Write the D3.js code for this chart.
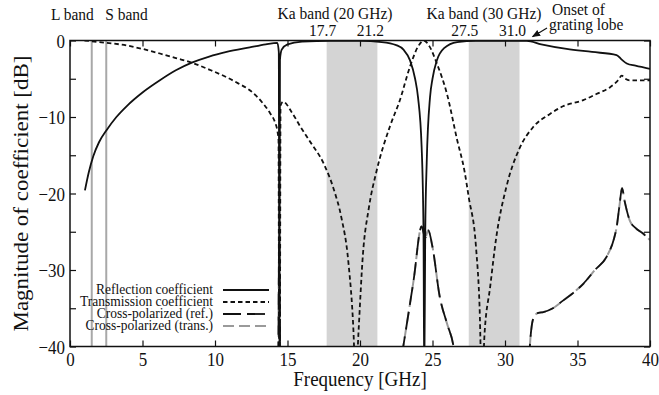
<!DOCTYPE html>
<html>
<head>
<meta charset="utf-8">
<script src="https://cdn.jsdelivr.net/npm/d3@7"></script>
<style>
  body { margin: 0; background: #fff; }
  svg text { font-family: 'Liberation Serif', 'Times New Roman', serif; fill: #111; }
</style>
</head>
<body>
<div id="chart"></div>
<script>
// frequency [GHz], magnitude [dB]
const reflection = [
  [1.03, -19.6], [1.3, -17.2], [1.61, -15.1], [2.0, -13.3], [2.53, -11.7], [3.2, -10.0],
  [3.9, -8.6], [5.0, -6.8], [6.2, -5.2], [7.3, -3.9], [8.4, -2.9], [9.6, -2.1],
  [10.8, -1.5], [12.4, -0.9], [13.5, -0.5], [14.3, -0.3], [14.4, -1.5], [14.44, -45],
  [14.48, -2.5], [14.6, -1.2], [15.0, -0.5], [16.0, -0.15], [18.0, -0.05], [20.0, -0.05],
  [21.5, -0.2], [22.5, -0.6], [23.0, -1.2], [23.45, -2.6], [23.8, -5.0], [24.0, -7.4],
  [24.25, -13.9], [24.38, -25], [24.43, -45], [24.5, -25], [24.6, -16], [24.83, -7.4],
  [25.0, -5.0], [25.3, -2.6], [25.8, -1.0], [26.7, -0.2], [28.0, -0.05], [31.5, -0.05],
  [32.5, -0.5], [34.25, -1.1], [36.0, -1.5], [37.7, -1.9], [38.05, -2.5], [38.4, -3.0],
  [39.0, -3.3], [40.0, -3.7]
];

const transmission = [
  [1.0, 0], [2.0, -0.2], [3.0, -0.4], [3.9, -0.65], [5.0, -1.1], [6.2, -1.7],
  [7.3, -2.3], [8.4, -2.9], [9.6, -3.8], [10.8, -4.8], [11.6, -5.6], [12.4, -6.5],
  [13.3, -8.2], [13.8, -9.5], [14.14, -10.7], [14.3, -11.8], [14.38, -13], [14.43, -45],
  [14.47, -45], [14.52, -8.5], [14.7, -8.0], [15.3, -9.4], [15.9, -11.3], [16.55, -13.2],
  [17.5, -16.1], [18.2, -19.5], [18.7, -23], [19.2, -29], [19.55, -38], [19.7, -45],
  [19.9, -38], [20.2, -28], [20.6, -22], [21.15, -17], [22.07, -11.2], [22.75, -7.8],
  [23.45, -3.4], [24.0, -0.8], [24.4, 0], [24.8, -0.8], [25.3, -3.0], [26.0, -7.0],
  [26.7, -13], [27.2, -17], [27.5, -20.5], [28.0, -27], [28.25, -35], [28.4, -45],
  [28.6, -38], [28.97, -32.3], [29.4, -25.7], [30.1, -19.1], [31.0, -14.1], [31.95, -11.3],
  [33.1, -9.6], [34.0, -8.6], [35.4, -7.8], [36.3, -7.0], [37.25, -6.1], [37.8, -5.2],
  [38.05, -4.6], [38.3, -5.0], [38.6, -5.2], [40.0, -5.2]
];

// null marks a break in the trace
const crossPolRef = [
  [14.36, -45], [14.43, -26.3], [14.5, -45], null,
  [22.9, -41], [23.7, -31.3], [24.25, -24.3], [24.5, -25.8], [24.7, -24.8], [25.0, -27],
  [25.5, -33.5], [26.0, -37], [26.45, -40], [26.6, -42], null,
  [31.65, -42], [31.75, -39], [32.0, -36.1], [32.3, -35.6], [32.65, -35.5], [33.3, -35],
  [34.0, -34], [34.7, -33], [35.4, -31.8], [36.2, -30], [37.0, -28.3], [37.5, -26],
  [37.7, -24.4], [37.9, -21.5], [38.07, -19.3], [38.25, -21], [38.6, -23.5], [39.0, -24.5],
  [39.5, -25.2], [40.0, -26.1]
];
const crossPolTrans = crossPolRef.slice();

const kaBands = [[17.7, 21.2], [27.5, 31.0]];
const bandLines = [1.5, 2.5];
const xTicks = [0, 5, 10, 15, 20, 25, 30, 35, 40];
const yTicks = [-40, -35, -30, -25, -20, -15, -10, -5, 0];
const legendLabels = ['Reflection coefficient', 'Transmission coefficient', 'Cross-polarized (ref.)', 'Cross-polarized (trans.)'];

const W = 659, H = 395;
const plot = { left: 70, right: 650, top: 40.5, bottom: 346.5 };
const stretch = 'scale(1,1.15)';

const svg = d3.select('#chart').append('svg').attr('width', W).attr('height', H);

const x = d3.scaleLinear().domain([0, 40]).range([plot.left, plot.right]);
const y = d3.scaleLinear().domain([-40, 0]).range([plot.bottom, plot.top]);

svg.append('clipPath').attr('id', 'plot-clip')
  .append('rect').attr('x', plot.left).attr('y', plot.top)
  .attr('width', plot.right - plot.left).attr('height', plot.bottom - plot.top);

/* Ka bands */
svg.append('g').selectAll('rect')
  .data(kaBands)
  .enter().append('rect')
  .attr('x', d => x(d[0]))
  .attr('width', d => x(d[1]) - x(d[0]))
  .attr('y', plot.top)
  .attr('height', plot.bottom - plot.top)
  .attr('fill', '#d4d4d4');

/* L / S band lines */
svg.append('g').selectAll('line')
  .data(bandLines)
  .enter().append('line')
  .attr('x1', d => x(d)).attr('x2', d => x(d))
  .attr('y1', plot.top).attr('y2', plot.bottom)
  .attr('stroke', '#a8a8a8')
  .attr('stroke-width', 2);

/* Curves */
const line = d3.line()
  .defined(d => d !== null)
  .x(d => x(d[0]))
  .y(d => y(d[1]))
  .curve(d3.curveMonotoneX);

const curves = svg.append('g').attr('clip-path', 'url(#plot-clip)');

const styles = [
  { data: crossPolTrans, color: '#9a9a9a', dash: '11,5', width: 2 },
  { data: crossPolRef, color: '#111', dash: '18,7', width: 1.8 },
  { data: transmission, color: '#111', dash: '4.5,3', width: 1.8 },
  { data: reflection, color: '#111', dash: null, width: 1.8 }
];

styles.forEach(s => {
  curves.append('path')
    .datum(s.data)
    .attr('fill', 'none')
    .attr('stroke', s.color)
    .attr('stroke-width', s.width)
    .attr('stroke-dasharray', s.dash)
    .attr('d', line);
});

/* Axes (ticks inside) */
const xAxis = svg.append('g')
  .attr('transform', 'translate(0,' + plot.bottom + ')')
  .call(d3.axisBottom(x).tickValues(xTicks).tickSize(-6).tickFormat(d3.format('d')));
xAxis.selectAll('text')
  .attr('y', 0).attr('dy', null)
  .attr('transform', 'translate(0,19) ' + stretch)
  .style('font-size', '17px');

svg.append('g')
  .attr('transform', 'translate(0,' + plot.top + ')')
  .call(d3.axisTop(x).tickValues(xTicks).tickSize(-6).tickFormat(''));

const fmt = d3.format('d');
const yAxis = svg.append('g')
  .attr('transform', 'translate(' + plot.left + ',0)')
  .call(d3.axisLeft(y).tickValues(yTicks).tickSize(-6).tickFormat(d => d % 10 === 0 ? fmt(d) : ''));
yAxis.selectAll('text')
  .attr('x', 0).attr('dy', null)
  .attr('transform', 'translate(-5,6.5) ' + stretch)
  .style('font-size', '17px');

svg.append('g')
  .attr('transform', 'translate(' + plot.right + ',0)')
  .call(d3.axisRight(y).tickValues(yTicks).tickSize(-6).tickFormat(''));

svg.selectAll('.domain').remove();
svg.selectAll('.tick line').attr('stroke', '#111').attr('stroke-width', 1.2);

svg.append('rect')
  .attr('x', plot.left).attr('y', plot.top)
  .attr('width', plot.right - plot.left).attr('height', plot.bottom - plot.top)
  .attr('fill', 'none')
  .attr('stroke', '#111')
  .attr('stroke-width', 1.5);

/* Axis titles */
svg.append('text')
  .attr('transform', 'translate(' + ((plot.left + plot.right) / 2) + ',386) ' + stretch)
  .attr('text-anchor', 'middle')
  .style('font-size', '19px')
  .text('Frequency [GHz]');

svg.append('text')
  .attr('transform', 'translate(28,' + ((plot.top + plot.bottom) / 2) + ') ' + stretch + ' rotate(-90)')
  .attr('text-anchor', 'middle')
  .style('font-size', '20px')
  .text('Magnitude of coefficient [dB]');

/* Annotations */
const notes = [
  { t: 'L band', x: x(bandLines[0]) + 2, y: 20, a: 'end' },
  { t: 'S band', x: x(bandLines[1]) - 1, y: 20, a: 'start' },
  { t: 'Ka band (20 GHz)', x: 335, y: 19, a: 'middle' },
  { t: 'Ka band (30 GHz)', x: 484, y: 19, a: 'middle' },
  { t: kaBands[0][0].toFixed(1), x: x(kaBands[0][0]) - 4, y: 36, a: 'middle' },
  { t: kaBands[0][1].toFixed(1), x: x(kaBands[0][1]) - 7, y: 36, a: 'middle' },
  { t: kaBands[1][0].toFixed(1), x: x(kaBands[1][0]) - 4, y: 36, a: 'middle' },
  { t: kaBands[1][1].toFixed(1), x: x(kaBands[1][1]) - 7, y: 36, a: 'middle' },
  { t: 'Onset of', x: 552, y: 14.5, a: 'start' },
  { t: 'grating lobe', x: 549, y: 30, a: 'start' }
];

svg.append('g').selectAll('text')
  .data(notes)
  .enter().append('text')
  .attr('transform', d => 'translate(' + d.x + ',' + d.y + ') scale(1,1.1)')
  .attr('text-anchor', d => d.a)
  .style('font-size', '15.5px')
  .text(d => d.t);

svg.append('defs').append('marker')
  .attr('id', 'arrow')
  .attr('viewBox', '0 0 10 10')
  .attr('refX', 9).attr('refY', 5)
  .attr('markerWidth', 7).attr('markerHeight', 7)
  .attr('orient', 'auto')
  .append('path')
  .attr('d', 'M0,1 L10,5 L0,9 Z')
  .attr('fill', '#111');

svg.append('line')
  .attr('x1', 547).attr('y1', 28)
  .attr('x2', x(31.9)).attr('y2', y(0.5))
  .attr('stroke', '#111')
  .attr('stroke-width', 1.2)
  .attr('marker-end', 'url(#arrow)');

/* Legend */
const legend = svg.append('g');
const rows = legend.selectAll('g')
  .data(legendLabels)
  .enter().append('g')
  .attr('transform', (d, i) => 'translate(0,' + (290 + i * 12) + ')');

rows.append('text')
  .attr('transform', 'translate(213,4.4) scale(1,1.08)')
  .attr('text-anchor', 'end')
  .style('font-size', '13.5px')
  .text(d => d);

rows.append('line')
  .attr('x1', 223).attr('x2', 269)
  .attr('y1', 0).attr('y2', 0)
  .attr('stroke', (d, i) => i === 3 ? '#9a9a9a' : '#111')
  .attr('stroke-width', 1.8)
  .attr('stroke-dasharray', (d, i) => [null, '4.5,3', '18,6', '11,5'][i]);
</script>
</body>
</html>
